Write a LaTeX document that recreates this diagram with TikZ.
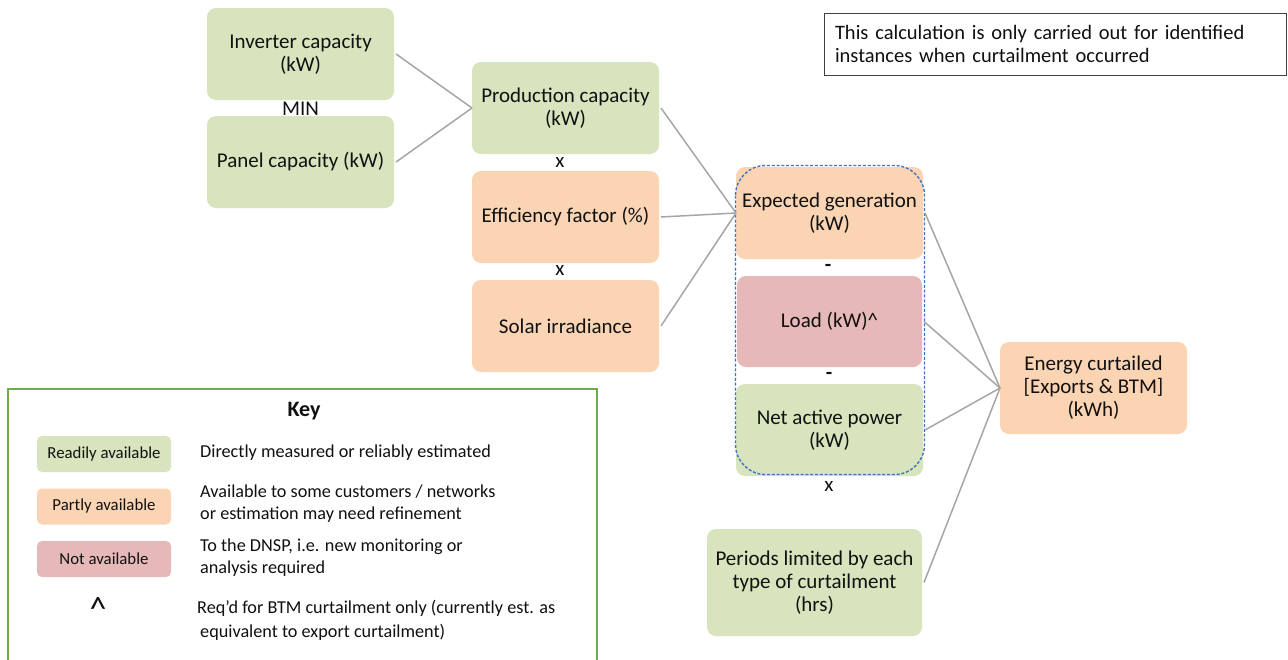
\documentclass[tikz,border=0pt]{standalone}
\usepackage{fontspec}
\setmainfont{Carlito}
\definecolor{gr}{HTML}{D7E4BD}
\definecolor{orf}{HTML}{FBD4B4}
\definecolor{rd}{HTML}{E6B9B8}
\definecolor{conn}{HTML}{A6A6A6}
\definecolor{dashblue}{HTML}{4472C4}
\definecolor{keygreen}{HTML}{70AD47}
\definecolor{txt}{HTML}{111111}
\tikzset{
  box/.style={rectangle, rounded corners=9pt, draw=none, inner sep=0pt, outer sep=0pt,
    align=center, text=txt, font=\fontsize{21}{23}\selectfont},
  gbox/.style={box, fill=gr},
  obox/.style={box, fill=orf},
  rbox/.style={box, fill=rd},
  std/.style={minimum width=187pt, minimum height=92pt},
  conline/.style={draw=conn, line width=1.5pt},
  op/.style={font=\fontsize{21}{23}\selectfont, text=txt, inner sep=0pt},
  keylab/.style={rectangle, rounded corners=5pt, inner sep=0pt, minimum width=134pt, minimum height=36pt,
    font=\fontsize{16.8}{18}\selectfont, text=txt},
  keydesc/.style={anchor=west, align=left, inner sep=0pt, font=\fontsize{18.2}{22}\selectfont, text=txt},
}
\begin{document}
\begin{tikzpicture}[x=1pt, y=-1pt]
\path[use as bounding box, fill=white] (0,0) rectangle (1288,659);

% left column
\node[gbox, std] (inv) at (300.5,54) {Inverter capacity\\(kW)};
\node[gbox, std] (pan) at (300.5,162) {Panel capacity (kW)};
\node[op] (min) at (300.5,109) {MIN};

% middle column
\node[gbox, std] (prod) at (565.5,108) {Production capacity\\(kW)};
\node[obox, std] (eff) at (565.5,217) {Efficiency factor (\%)};
\node[obox, std] (sol) at (565.5,326) {Solar irradiance};
\node[op] (x1) at (560,162) {x};
\node[op] (x2) at (560,270) {x};

% right column
\node[obox, std] (exp) at (829.5,213) {Expected generation\\(kW)};
\node[rbox, minimum width=185pt, minimum height=91pt] (load) at (829.5,321.5) {Load (kW)\textasciicircum};
\node[gbox, std] (net) at (829.5,430) {Net active power\\(kW)};
\node[op, font=\bfseries\fontsize{21}{23}\selectfont] (m1) at (828,268) {-};
\node[op, font=\bfseries\fontsize{21}{23}\selectfont] (m2) at (829,376) {-};
\node[op] (x3) at (829,486) {x};
\draw[dashblue, line width=1.4pt, dash pattern=on 3pt off 1.8pt, rounded corners=30pt]
  (735.5,165.5) rectangle (924.5,474.5);

\node[gbox, minimum width=215pt, minimum height=107pt] (per) at (814.5,582.5)
  {Periods limited by each\\type of curtailment\\(hrs)};
\node[obox, std] (ene) at (1093.5,388) {Energy curtailed\\{[Exports \& BTM]}\\(kWh)};

% note
\node[draw=black!75, line width=1pt, rectangle, minimum width=462pt, minimum height=62pt,
  inner sep=0pt, text width=440pt, align=left, font=\fontsize{20.5}{23}\selectfont, text=txt]
  (note) at (1055,44) {This calculation is only carried out for identified\\instances when curtailment occurred};

% connectors
\draw[conline] ([xshift=2pt]inv.east) -- (prod.west);
\draw[conline] ([xshift=2pt]pan.east) -- (prod.west);
\draw[conline] ([xshift=2pt]prod.east) -- (exp.west);
\draw[conline] ([xshift=2pt]eff.east) -- (exp.west);
\draw[conline] ([xshift=2pt]sol.east) -- (exp.west);
\draw[conline] ([xshift=2pt]exp.east) -- (ene.west);
\draw[conline] ([xshift=2pt]load.east) -- (ene.west);
\draw[conline] ([xshift=2pt]net.east) -- (ene.west);
\draw[conline] ([xshift=2pt]per.east) -- (ene.west);

% key
\draw[keygreen, line width=2pt] (8,662) -- (8,389) -- (597,389) -- (597,662);
\node[inner sep=0pt, font=\bfseries\fontsize{22}{24}\selectfont, text=txt] (keyt) at (304,411) {Key};
\node[keylab, fill=gr] (k1) at (104,454) {Readily available};
\node[keylab, fill=orf] (k2) at (104,506.5) {Partly available};
\node[keylab, fill=rd] (k3) at (104,559) {Not available};
\node[op, font=\fontsize{34}{36}\selectfont] (k4) at (98,609) {\textasciicircum};
\node[keydesc] (d1) at (200,453) {Directly measured or reliably estimated};
\node[keydesc] (d2) at (200,503.5) {Available to some customers / networks\\or estimation may need refinement};
\node[keydesc] (d3) at (200,558) {To the DNSP, i.e. new monitoring or\\analysis required};
\node[keydesc, font=\fontsize{18.2}{24}\selectfont] (d4) at (197,620) {Req’d for BTM curtailment only (currently est. as\\\hspace*{3pt}equivalent to export curtailment)};
\end{tikzpicture}
\end{document}
